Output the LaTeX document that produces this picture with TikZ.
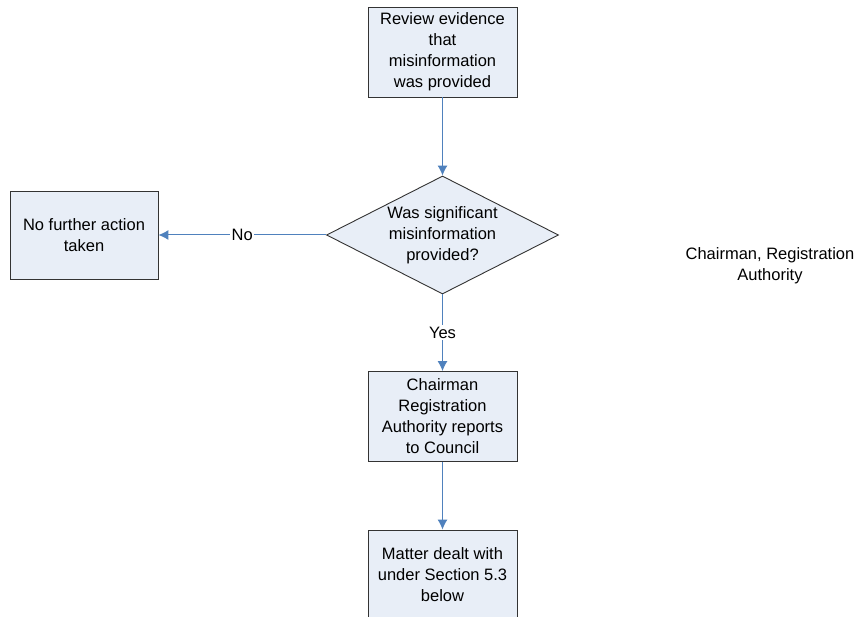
\documentclass[tikz,border=0pt]{standalone}
\usepackage{fontspec}
\setmainfont{Liberation Sans}
\usetikzlibrary{shapes.geometric,arrows.meta}
\definecolor{boxfill}{HTML}{E8EEF7}
\definecolor{arrowblue}{HTML}{4F81BD}
\begin{document}
\begin{tikzpicture}[x=1pt,y=-1pt,
  txt/.style={font=\fontsize{16.5}{21}\selectfont, align=center, inner sep=0pt},
  procbox/.style={draw=black!80, line width=0.9pt, fill=boxfill, minimum width=149pt, minimum height=90pt, inner sep=0pt},
  decision/.style={diamond, draw=black!80, line width=0.9pt, fill=boxfill, minimum width=232pt, minimum height=118pt, inner sep=0pt},
  flow/.style={draw=arrowblue, line width=1pt, -{Latex[length=10pt,width=10pt]}},
  lbl/.style={txt, fill=white, inner sep=1.5pt}
]
\useasboundingbox (0,0) rectangle (861,617);
\fill[white] (0,0) rectangle (861,617);

\node[procbox] (review) at (442.5,52) {};
\node[txt] at (review) {Review evidence\\that\\misinformation\\was provided};

\node[decision] (q) at (442.5,235) {};
\node[txt] at (q) {Was significant\\misinformation\\provided?};

\node[procbox, minimum width=148pt, minimum height=88pt] (none) at (84,235) {};
\node[txt] at (none) {No further action\\taken};

\node[procbox] (report) at (442.5,416.5) {};
\node[txt] at (report) {Chairman\\Registration\\Authority reports\\to Council};

\node[procbox] (matter) at (442.5,575) {};
\node[txt] at (matter.center) {Matter dealt with\\under Section 5.3\\below};

\node[txt] (float) at (770,266) {Chairman, Registration\\Authority};

\draw[flow] (review) -- (q);
\draw[flow] (q.west) -- node[lbl] {No} (none.east);
\draw[flow] (q.south) -- node[lbl] {Yes} (report.north);
\draw[flow] (report) -- (matter);
\end{tikzpicture}
\end{document}
